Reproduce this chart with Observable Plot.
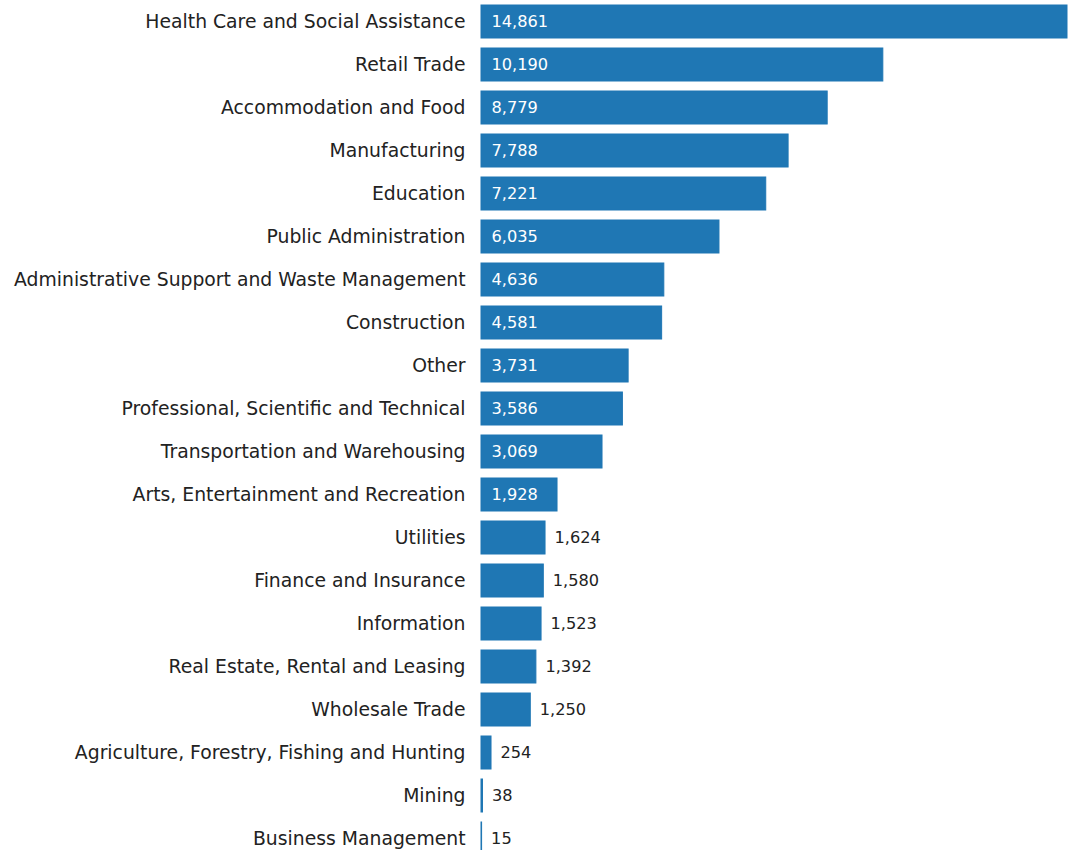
<!DOCTYPE html>
<html>
<head>
<meta charset="utf-8">
<script src="https://cdn.jsdelivr.net/npm/d3@7"></script>
<script src="https://cdn.jsdelivr.net/npm/@observablehq/plot@0.6"></script>
<style>
  body { margin: 0; background: #fff; overflow: hidden; }
  #chart svg { display: block; }
</style>
</head>
<body>
<div id="chart"></div>
<script>
const industries = [
  "Health Care and Social Assistance",
  "Retail Trade",
  "Accommodation and Food",
  "Manufacturing",
  "Education",
  "Public Administration",
  "Administrative Support and Waste Management",
  "Construction",
  "Other",
  "Professional, Scientific and Technical",
  "Transportation and Warehousing",
  "Arts, Entertainment and Recreation",
  "Utilities",
  "Finance and Insurance",
  "Information",
  "Real Estate, Rental and Leasing",
  "Wholesale Trade",
  "Agriculture, Forestry, Fishing and Hunting",
  "Mining",
  "Business Management"
];
const employees = [14861, 10190, 8779, 7788, 7221, 6035, 4636, 4581, 3731, 3586, 3069, 1928, 1624, 1580, 1523, 1392, 1250, 254, 38, 15];

const data = industries.map((name, i) => ({name, value: employees[i]}));
const fmt = d3.format(",");
const insideThreshold = 1800;
const barColor = "#1f77b4";

const chart = Plot.plot({
  width: 1076,
  height: 860,
  marginLeft: 481,
  marginRight: 9,
  marginTop: 0,
  marginBottom: 0,
  style: {fontFamily: "DejaVu Sans, Verdana, sans-serif", fontSize: "16px", color: "#222"},
  x: {domain: [0, 14861], axis: null},
  y: {domain: industries, paddingInner: 0.23, paddingOuter: 0.115, label: null},
  marks: [
    Plot.axisY({tickSize: 0, tickPadding: 16, fontSize: 18.8, fill: "#222", label: null}),
    Plot.barX(data, {y: "name", x: "value", fill: barColor, stroke: barColor, strokeWidth: 1}),
    Plot.text(data.filter(d => d.value >= insideThreshold), {
      y: "name", x: 0, dx: 10, text: d => fmt(d.value), textAnchor: "start", fill: "white", fontSize: 16.2
    }),
    Plot.text(data.filter(d => d.value < insideThreshold), {
      y: "name", x: "value", dx: 9, text: d => fmt(d.value), textAnchor: "start", fill: "#222", fontSize: 16.2
    })
  ]
});
document.getElementById("chart").append(chart);
</script>
</body>
</html>
